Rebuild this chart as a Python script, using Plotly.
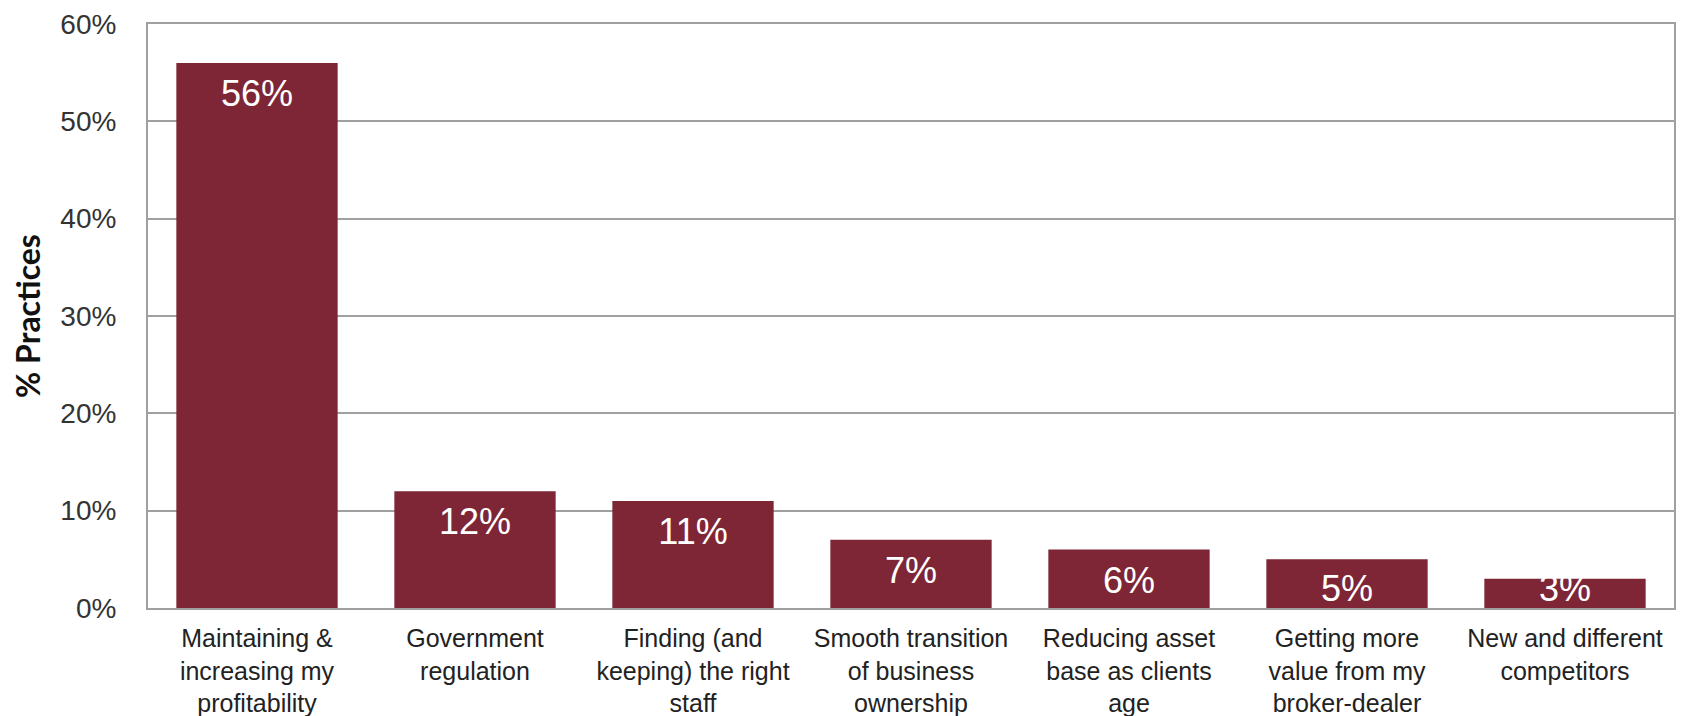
import plotly.graph_objects as go

categories = [
    "Maintaining &<br>increasing my<br>profitability",
    "Government<br>regulation",
    "Finding (and<br>keeping) the right<br>staff",
    "Smooth transition<br>of business<br>ownership",
    "Reducing asset<br>base as clients<br>age",
    "Getting more<br>value from my<br>broker-dealer",
    "New and different<br>competitors",
]
values = [56, 12, 11, 7, 6, 5, 3]
labels = [f"{v}%" for v in values]
y_ticks = [0, 10, 20, 30, 40, 50, 60]
y_ticktext = [f"{t}%" for t in y_ticks]

bar_color = "#7e2636"
label_y = [max(v - 3.5, 1.6) for v in values]

fig = go.Figure()
fig.add_trace(go.Bar(
    x=categories, y=values, marker=dict(color=bar_color, line=dict(width=0)),
    hoverinfo="skip", showlegend=False,
))
fig.add_trace(go.Scatter(
    x=categories, y=label_y, mode="text", text=labels,
    textposition="middle center",
    textfont=dict(family="Liberation Sans, Arial", size=36, color="white"),
    showlegend=False, hoverinfo="skip", cliponaxis=False,
))

fig.update_layout(
    width=1682, height=716,
    margin=dict(l=148, r=8, t=24, b=108),
    paper_bgcolor="white", plot_bgcolor="white",
    bargap=0.26,
    font=dict(family="Liberation Sans, Arial", color="#222222"),
)
fig.update_yaxes(
    range=[0, 60], tickvals=y_ticks, ticktext=y_ticktext,
    showgrid=True, gridcolor="#a0a0a0", gridwidth=1.5,
    showline=True, linecolor="#a0a0a0", linewidth=2, mirror=True,
    zeroline=False, automargin=False,
    tickfont=dict(size=28, color="#333333"),
    ticklabelstandoff=24,
    title=dict(text="<b>% Practices</b>", font=dict(family="Lato, Carlito, sans-serif", size=32, color="#111111"), standoff=10),
)
fig.update_xaxes(
    showline=True, linecolor="#a0a0a0", linewidth=2, mirror=True,
    showgrid=False, automargin=False, tickfont=dict(size=25, color="#222222"),
    ticklabelstandoff=7,
)

fig.write_html(
    "out.html",
    config={"displayModeBar": False},
    post_script="document.body.style.margin='0';document.body.style.overflow='hidden';",
)
